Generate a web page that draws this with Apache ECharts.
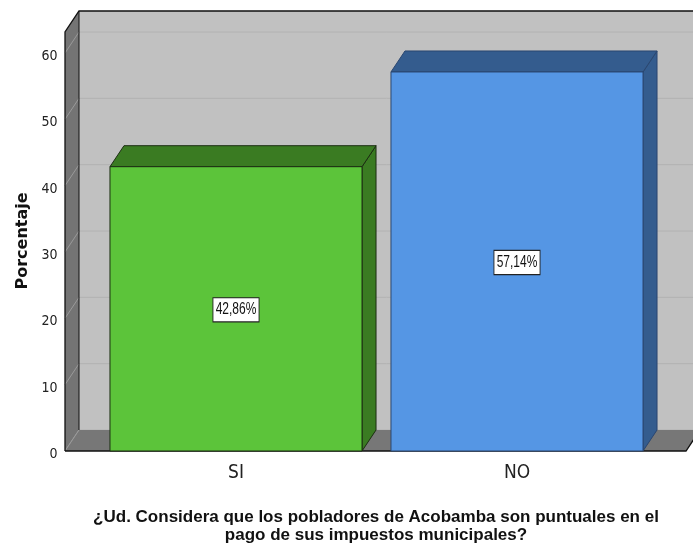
<!DOCTYPE html>
<html>
<head>
<meta charset="utf-8">
<script src="https://cdn.jsdelivr.net/npm/echarts@6/dist/echarts.min.js"></script>
<style>html,body{margin:0;padding:0;background:#fff;}#c{width:693px;height:548px;}</style>
</head>
<body>
<div id="c"></div>
<script>
const categories = ['SI', 'NO'];
const values = [42.86, 57.14];
const valueLabels = ['42,86%', '57,14%'];
const yTicks = [0, 10, 20, 30, 40, 50, 60];
const yAxisTitle = 'Porcentaje';
const xAxisTitle = '¿Ud. Considera que los pobladores de Acobamba son puntuales en el\npago de sus impuestos municipales?';

const frontColors = ['#5cc43a', '#5596e4'];
const darkColors = ['#3a7b22', '#345c8e'];
const edgeColors = ['#1c2e12', '#2a4670'];
const FONT = 'Arial, "Liberation Sans", sans-serif';
const NARROW = '"Liberation Sans Narrow", "Arial Narrow", "DejaVu Sans Condensed", Arial, sans-serif';
const DX = 14, DY = -21;

const chart = echarts.init(document.getElementById('c'), null, {renderer: 'canvas'});

function renderBox(params, api) {
  if (params.dataIndex !== 0) return;
  const cs = params.coordSys;
  const L = cs.x - 30.5, R = cs.x + cs.width + 28.5;
  const y0 = api.coord([0, 0])[1];
  const top = cs.y - 21;
  const children = [];
  children.push({type: 'rect', shape: {x: L + DX, y: top + DY, width: R - L + 40, height: y0 - top}, style: {fill: '#c1c1c1', stroke: null}});
  yTicks.forEach(function (t) {
    const y = api.coord([0, t])[1];
    children.push({type: 'line', shape: {x1: L + DX, y1: y + DY, x2: R + DX + 40, y2: y + DY}, style: {stroke: '#b2b2b2', lineWidth: 1}});
  });
  children.push({type: 'polygon', shape: {points: [[L, top], [L + DX, top + DY], [L + DX, y0 + DY], [L, y0]]}, style: {fill: '#747474'}});
  yTicks.forEach(function (t) {
    const y = api.coord([0, t])[1];
    children.push({type: 'line', shape: {x1: L, y1: y, x2: L + DX, y2: y + DY}, style: {stroke: '#9a9a9a', lineWidth: 1}});
  });
  children.push({type: 'polygon', shape: {points: [[L, y0], [R, y0], [R + DX, y0 + DY], [L + DX, y0 + DY]]}, style: {fill: '#777777'}});
  children.push({type: 'line', shape: {x1: L, y1: y0, x2: L + DX, y2: y0 + DY}, style: {stroke: '#9a9a9a', lineWidth: 1}});
  children.push({type: 'polyline', shape: {points: [[L, y0], [L, top], [L + DX, top + DY], [R + DX + 40, top + DY]]}, style: {stroke: '#111', lineWidth: 1.3, fill: null}});
  children.push({type: 'line', shape: {x1: L + DX, y1: top + DY, x2: L + DX, y2: y0 + DY}, style: {stroke: '#111', lineWidth: 1}});
  children.push({type: 'polyline', shape: {points: [[L, y0], [R, y0], [R + DX, y0 + DY]]}, style: {stroke: '#111', lineWidth: 1.3, fill: null}});
  return {type: 'group', children: children};
}

function renderBar(params, api) {
  const i = api.value(0), v = api.value(1);
  const p0 = api.coord([i, 0]);
  const p1 = api.coord([i, v]);
  const w = api.size([1, 0])[0] * 0.897;
  const l = p0[0] - w / 2, r = p0[0] + w / 2;
  const yt = p1[1], yb = p0[1];
  const idx = params.dataIndex;
  const edge = edgeColors[idx];
  return {
    type: 'group',
    children: [
      {type: 'polygon', shape: {points: [[r, yt], [r + DX, yt + DY], [r + DX, yb + DY], [r, yb]]}, style: {fill: darkColors[idx], stroke: edge, lineWidth: 1}},
      {type: 'polygon', shape: {points: [[l, yt], [l + DX, yt + DY], [r + DX, yt + DY], [r, yt]]}, style: {fill: darkColors[idx], stroke: edge, lineWidth: 1}},
      {type: 'rect', shape: {x: l, y: yt, width: w, height: yb - yt}, style: {fill: frontColors[idx], stroke: edge, lineWidth: 1}},
      {type: 'text', x: p0[0], y: (yt + yb) / 2 + 1, scaleX: 0.75, style: {
        text: valueLabels[idx], fill: '#111', font: '16px ' + FONT,
        align: 'center', verticalAlign: 'middle',
        backgroundColor: '#fff', borderColor: '#222', borderWidth: 1.2, padding: [4, 3, 3, 3]
      }}
    ]
  };
}

chart.setOption({
  animation: false,
  backgroundColor: '#fff',
  grid: {left: 95.5, right: 35.5, top: 53, bottom: 97},
  xAxis: {
    type: 'category', data: categories,
    axisLine: {show: false}, axisTick: {show: false},
    axisLabel: {margin: 13, fontSize: 19, color: '#222', fontFamily: NARROW}
  },
  yAxis: {
    type: 'value', min: 0, max: 60, interval: 10,
    name: yAxisTitle, nameLocation: 'middle', nameGap: 64, nameRotate: 90,
    nameTextStyle: {fontSize: 16, fontWeight: 'bold', color: '#111', fontFamily: '"DejaVu Sans", sans-serif', padding: [0, 0, 0, 22]},
    axisLine: {show: false}, axisTick: {show: false}, splitLine: {show: false},
    axisLabel: {margin: 38, fontSize: 14, color: '#222', fontFamily: NARROW, verticalAlign: 'top', lineHeight: 7}
  },
  graphic: [{
    type: 'text', x: 376, y: 508,
    style: {text: xAxisTitle, font: 'bold 17px ' + FONT, fill: '#111', align: 'center', verticalAlign: 'top', lineHeight: 18}
  }],
  series: [
    {type: 'custom', renderItem: renderBox, data: [[0, 0]], z: 1, silent: true},
    {type: 'custom', renderItem: renderBar, data: categories.map(function (c, i) { return [i, values[i]]; }), z: 2}
  ]
});
</script>
</body>
</html>
